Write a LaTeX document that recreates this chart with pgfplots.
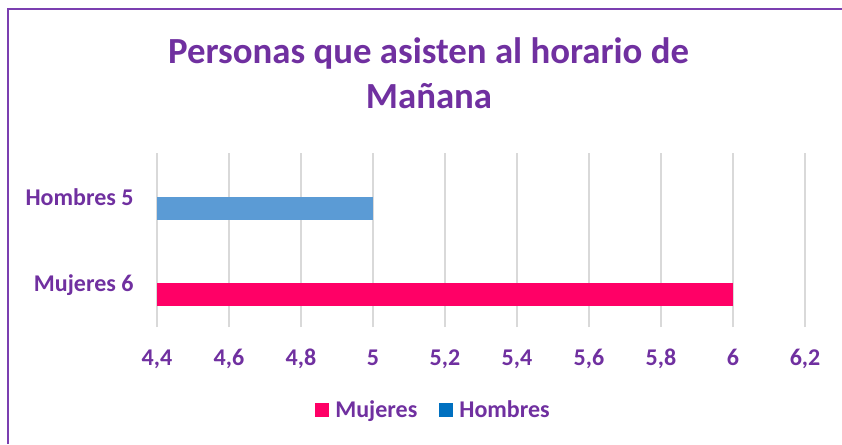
\documentclass[border=0pt]{standalone}
\usepackage{fontspec}
\setmainfont{Carlito}
\usepackage{pgfplots}
\pgfplotsset{compat=1.18}
\usepackage{pgfplotstable}
\definecolor{tpurple}{HTML}{7030A0}
\definecolor{bpurple}{HTML}{7B3FB0}
\definecolor{mujer}{HTML}{FF0066}
\definecolor{hombre}{HTML}{5B9BD5}
\definecolor{hombreleg}{HTML}{0070C0}
\definecolor{gridc}{HTML}{D9D9D9}
\pgfplotsset{sq legend/.style={legend image code/.code={\fill[##1] (0pt,-7pt) rectangle (14pt,7pt); \path (19pt,0pt);}}}
\pgfplotstableread{
y val
0 6
}\mujeres
\pgfplotstableread{
y val
1 5
}\hombres
\begin{document}
\begin{tikzpicture}
\path[use as bounding box] (0pt,0pt) rectangle (842pt,444pt);
\draw[bpurple, line width=2pt] (8pt,0pt) -- (8pt,435pt) -- (842pt,435pt);
\node[anchor=base, font=\bfseries\fontsize{36.8}{40}\selectfont, text=tpurple, inner sep=0pt] at (428.5pt,380pt) {Personas que asisten al horario de};
\node[anchor=base, font=\bfseries\fontsize{36.8}{40}\selectfont, text=tpurple, inner sep=0pt] at (429pt,335pt) {Mañana};
\begin{axis}[
  at={(157pt,117pt)}, anchor=south west,
  scale only axis, width=648pt, height=174pt,
  xbar, bar width=23pt, bar shift=0pt,
  xmin=4.4, xmax=6.2, ymin=-0.38, ymax=1.643,
  xtick={4.4,4.6,4.8,5,5.2,5.4,5.6,5.8,6,6.2},
  ytick={0.03,1.03}, yticklabels={Mujeres 6,Hombres 5},
  axis line style={draw=none},
  major tick style={draw=none},
  xmajorgrids, grid style={gridc, line width=1.5pt},
  /pgf/number format/use comma,
  /pgf/number format/assume math mode=true,
  ticklabel style={font=\bfseries\fontsize{24}{28}\selectfont, text=tpurple, inner sep=0pt},
  xticklabel style={anchor=base, yshift=-38pt},
  yticklabel style={anchor=base east, xshift=-19pt},
  legend style={at={(0.426,-0.477)}, anchor=center, draw=none, legend columns=2,
    font=\bfseries\fontsize{24}{28}\selectfont, text=tpurple,
    /tikz/every even column/.append style={column sep=21pt},
    nodes={inner sep=1pt}},
  clip=true,
]
\addplot[fill=mujer, draw=none, forget plot] table[x=val, y=y] {\mujeres};
\addplot[fill=hombre, draw=none, forget plot] table[x=val, y=y] {\hombres};
\addlegendimage{sq legend, fill=mujer, draw=none}
\addlegendentry{Mujeres}
\addlegendimage{sq legend, fill=hombreleg, draw=none}
\addlegendentry{Hombres}
\end{axis}
\end{tikzpicture}
\end{document}
